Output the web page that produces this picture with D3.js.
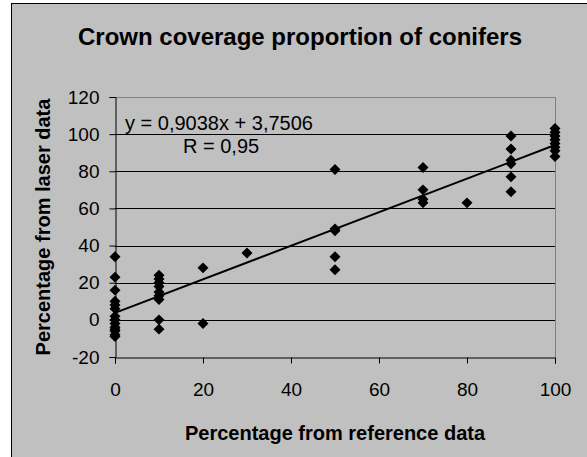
<!DOCTYPE html>
<html>
<head>
<meta charset="utf-8">
<script src="https://cdn.jsdelivr.net/npm/d3@7"></script>
<style>
  body { margin: 0; background: #fff; }
  text { font-family: Arial, "Liberation Sans", sans-serif; fill: #000; }
</style>
</head>
<body>
<div id="my_dataviz"></div>
<script>
// reference percentage (x) and laser percentage (y), one entry per point
const refPct = [
  0, 0, 0, 0, 0, 0, 0, 0, 0, 0, 0, 0, 0, 0,
  10, 10, 10, 10, 10, 10, 10, 10, 10,
  20, 20,
  30,
  50, 50, 50, 50, 50,
  70, 70, 70, 70,
  80,
  90, 90, 90, 90, 90, 90,
  100, 100, 100, 100, 100, 100, 100, 100
];
const laserPct = [
  34, 23, 16, 10, 8, 6, 2, 0, -2, -4, -5, -6, -8, -9,
  24, 22, 20, 18, 15, 13, 11, 0, -5,
  28, -2,
  36,
  81, 49, 48, 34, 27,
  82, 70, 65, 63,
  63,
  99, 92, 86, 84, 77, 69,
  103, 101, 99, 97, 95, 93, 91, 88
];
const xTicks = [0, 20, 40, 60, 80, 100];
const yTicks = [-20, 0, 20, 40, 60, 80, 100, 120];
const slope = 0.9038;
const intercept = 3.7506;

const W = 587, H = 457;
const margin = { left: 115, top: 97, right: 32, bottom: 100 };
const innerW = W - margin.left - margin.right;
const innerH = H - margin.top - margin.bottom;

const svg = d3.select("#my_dataviz")
  .append("svg")
  .attr("width", W)
  .attr("height", H);

// chart area with black border (runs off right/bottom edges)
svg.append("rect")
  .attr("x", 11.5).attr("y", 3.5)
  .attr("width", W).attr("height", H)
  .attr("fill", "#c0c0c0")
  .attr("stroke", "#000");

svg.append("text")
  .attr("x", 300).attr("y", 45)
  .attr("text-anchor", "middle")
  .style("font-size", "24px")
  .style("font-weight", "bold")
  .text("Crown coverage proportion of conifers");

const g = svg.append("g")
  .attr("transform", `translate(${margin.left},${margin.top})`);

const x = d3.scaleLinear().domain([0, 100]).range([0, innerW]);
const y = d3.scaleLinear().domain([-20, 120]).range([innerH, 0]);

// gridlines
g.selectAll(".grid")
  .data(yTicks.filter(t => t > -20 && t < 120))
  .enter().append("line")
  .attr("x1", 0).attr("x2", innerW)
  .attr("y1", d => Math.round(y(d)) + 0.5)
  .attr("y2", d => Math.round(y(d)) + 0.5)
  .attr("stroke", "#000");

// plot border top/right in grey
g.append("path")
  .attr("d", `M0.5,${Math.round(y(120)) + 0.5}H${innerW + 0.5}V${innerH}`)
  .attr("fill", "none")
  .attr("stroke", "#808080");

const plain = d => String(d); // keep the ascii hyphen for negatives
const xAxis = g.append("g")
  .attr("transform", `translate(0,${Math.round(innerH) + 0.5})`)
  .call(d3.axisBottom(x).tickValues(xTicks).tickFormat(plain).tickSize(6).tickPadding(19));
const yAxis = g.append("g")
  .attr("transform", "translate(0.5,0)")
  .call(d3.axisLeft(y).tickValues(yTicks).tickFormat(plain).tickSize(6).tickPadding(10));

[xAxis, yAxis].forEach(a => {
  a.selectAll("path, line").attr("stroke", "#000");
  a.selectAll("text")
    .style("font-size", "19px")
    .style("font-family", "Arial, 'Liberation Sans', sans-serif");
});

// markers: square rotated 45deg -> diamond
const diamond = d3.symbol().type(d3.symbolSquare).size(60);
g.selectAll(".pt")
  .data(refPct.map((d, i) => [d, laserPct[i]]))
  .enter().append("path")
  .attr("d", diamond)
  .attr("transform", d => `translate(${x(d[0])},${y(d[1])}) rotate(45)`)
  .attr("fill", "#000");

// linear trendline
g.append("line")
  .attr("x1", x(0)).attr("y1", y(intercept))
  .attr("x2", x(100)).attr("y2", y(slope * 100 + intercept))
  .attr("stroke", "#000")
  .attr("stroke-width", 2);

g.append("text")
  .attr("x", 125 - margin.left).attr("y", 130 - margin.top)
  .style("font-size", "20px")
  .text("y = 0,9038x + 3,7506");
g.append("text")
  .attr("x", 183 - margin.left).attr("y", 153 - margin.top)
  .style("font-size", "20px")
  .text("R = 0,95");

// axis titles
svg.append("text")
  .attr("x", margin.left + innerW / 2).attr("y", 440)
  .attr("text-anchor", "middle")
  .style("font-size", "20px")
  .style("font-weight", "bold")
  .text("Percentage from reference data");
svg.append("text")
  .attr("transform", `translate(50,${margin.top + innerH / 2}) rotate(-90)`)
  .attr("text-anchor", "middle")
  .style("font-size", "20px")
  .style("font-weight", "bold")
  .text("Percentage from laser data");
</script>
</body>
</html>
